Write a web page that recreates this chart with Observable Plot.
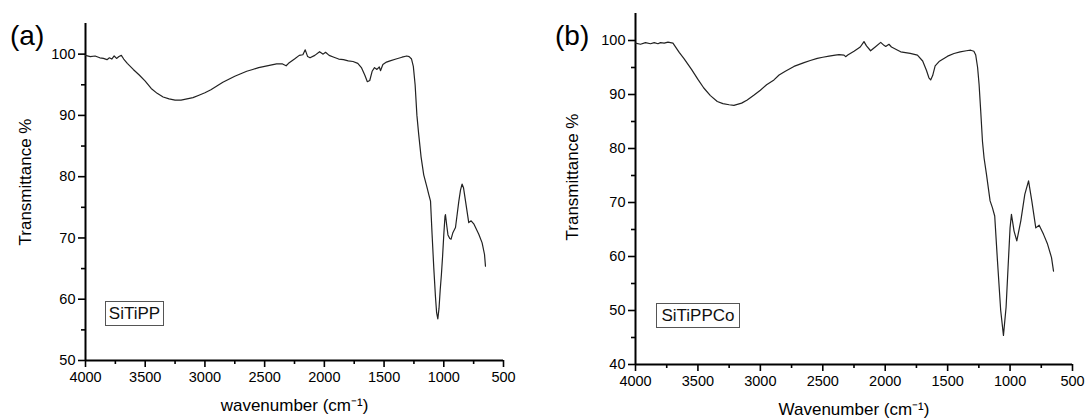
<!DOCTYPE html>
<html><head><meta charset="utf-8">
<script src="https://cdn.jsdelivr.net/npm/d3@7"></script>
<script src="https://cdn.jsdelivr.net/npm/@observablehq/plot@0.6"></script>
<style>
body{margin:0;background:#fff;font-family:"Liberation Sans",Arial,sans-serif;}
#wrap{position:relative;width:1085px;height:420px;overflow:hidden;}
.panel{position:absolute;top:0;}
.tag{position:absolute;font-size:28px;line-height:28px;color:#000;}
.box{position:absolute;border:1px solid #555;font-size:17px;line-height:23px;text-align:center;box-sizing:border-box;color:#111;background:#fff;white-space:nowrap;}
</style></head><body>
<div id="wrap"></div>
<script>
// ---- data ----
const xTicks = [4000, 3500, 3000, 2500, 2000, 1500, 1000, 500];
const xMinor = [3750, 3250, 2750, 2250, 1750, 1250, 750];
const yTicksA = [50, 60, 70, 80, 90, 100];
const yMinorA = [55, 65, 75, 85, 95];
const yTicksB = [40, 50, 60, 70, 80, 90, 100];
const yMinorB = [45, 55, 65, 75, 85, 95];

const waveA = [4000,3960,3920,3880,3850,3820,3800,3780,3760,3740,3720,3700,3680,3650,3600,3550,3500,3450,3400,3350,3300,3250,3200,3150,3100,3050,3000,2950,2900,2850,2800,2750,2700,2650,2600,2550,2500,2450,2400,2350,2320,2300,2250,2210,2180,2160,2140,2120,2080,2040,2010,1990,1960,1920,1880,1840,1800,1760,1720,1690,1660,1640,1620,1600,1580,1560,1540,1530,1510,1480,1450,1400,1350,1310,1290,1270,1255,1240,1225,1210,1190,1168,1140,1126,1111,1098,1084,1070,1060,1050,1040,1030,1020,1010,1000,990,986,975,965,950,939,925,902,874,860,847,835,818,791,771,749,707,679,659,651];
const transA = [99.8,99.6,99.7,99.4,99.3,99.1,99.4,99.2,99.7,99.3,99.6,99.8,99.2,98.5,97.5,96.6,95.6,94.4,93.6,93.0,92.7,92.5,92.5,92.7,92.9,93.3,93.7,94.2,94.8,95.4,95.9,96.4,96.8,97.2,97.5,97.8,98.0,98.2,98.4,98.4,98.1,98.5,99.2,99.8,99.9,100.7,99.6,99.4,99.8,100.4,100.0,100.3,99.8,99.5,99.2,99.1,98.9,98.8,98.5,97.8,96.5,95.5,95.7,97.2,97.8,97.5,97.9,97.3,98.3,98.7,98.9,99.2,99.5,99.7,99.6,99.2,98.0,95.0,90.0,86.9,83.2,80.3,78.2,77.1,76.0,70.6,65.2,60.5,57.8,56.8,58.5,61.5,64.0,67.0,70.5,73.5,73.8,72.0,70.5,69.9,69.8,70.8,71.7,76.0,77.8,78.8,78.2,76.0,72.5,72.8,72.3,70.6,69.2,67.3,65.4];

const waveB = [4000,3960,3920,3880,3850,3820,3800,3770,3740,3720,3700,3650,3613,3550,3500,3453,3400,3345,3300,3250,3212,3150,3105,3050,3000,2950,2891,2850,2800,2731,2650,2600,2544,2500,2450,2400,2370,2330,2317,2300,2250,2200,2170,2150,2117,2080,2036,2010,1996,1970,1950,1900,1876,1800,1742,1700,1670,1650,1636,1620,1600,1569,1500,1449,1400,1350,1315,1290,1275,1260,1248,1235,1221,1208,1189,1160,1141,1123,1101,1075,1053,1032,1016,1000,989,968,946,914,882,852,826,794,767,732,700,668,652];
const transB = [99.5,99.3,99.6,99.4,99.6,99.4,99.6,99.5,99.7,99.6,99.5,97.8,96.7,94.6,92.8,91.2,89.8,88.7,88.3,88.1,88.0,88.4,89.0,89.9,90.8,91.8,92.7,93.6,94.3,95.2,95.9,96.3,96.7,96.9,97.1,97.3,97.4,97.3,97.0,97.3,98.0,98.8,99.8,99.0,98.1,98.8,99.65,99.1,98.9,99.3,98.8,98.2,97.9,97.6,97.3,96.2,94.5,93.1,92.7,93.5,95.3,96.1,97.1,97.6,97.9,98.1,98.2,98.0,97.3,95.0,91.8,86.9,81.3,78.2,75.2,70.3,69.0,67.5,59.2,50.0,45.4,50.6,58.0,65.3,67.8,64.7,62.9,66.6,71.5,74.0,70.3,65.3,65.8,64.1,62.3,59.8,57.3];

const FONT = '"Liberation Sans", Arial, sans-serif';

function panel(o) {
  const data = o.wave.map((w, i) => ({w, t: o.trans[i]}));
  return Plot.plot({
    width: 540, height: 420,
    marginLeft: o.ml, marginRight: o.mr, marginTop: o.mt, marginBottom: o.mb,
    x: {domain: [4000, 500]},
    y: {domain: o.yDomain},
    style: {fontFamily: FONT, fontSize: "14px", color: "#000", background: "transparent", overflow: "visible"},
    marks: [
      Plot.axisX({ticks: xTicks, tickFormat: d => String(d), tickSize: 7, tickPadding: 4, strokeWidth: 1.6, fontSize: 14.5, label: null}),
      Plot.axisX({ticks: xMinor, tickFormat: () => "", tickSize: 4, strokeWidth: 1.6, label: null}),
      Plot.axisY({ticks: o.yTicks, tickFormat: d => String(d), tickSize: 7, tickPadding: 3, strokeWidth: 1.6, fontSize: 14.5, label: null}),
      Plot.axisY({ticks: o.yMinor, tickFormat: () => "", tickSize: 4, strokeWidth: 1.6, label: null}),
      Plot.ruleY([o.yDomain[0]], {stroke: "#000", strokeWidth: 2}),
      Plot.ruleX([4000], {stroke: "#000", strokeWidth: 2}),
      Plot.line(data, {x: "w", y: "t", stroke: "#222", strokeWidth: 1.2}),
      Plot.text([o.xLabel], {frameAnchor: "bottom", dy: o.xlabDy, fontSize: 17, fill: "#000"}),
      Plot.text(["Transmittance %"], {frameAnchor: "left", textAnchor: "middle", rotate: -90, dx: o.ylabDx, dy: o.ylabDy, fontSize: 17, fill: "#000"})
    ]
  });
}

const wrap = document.getElementById("wrap");
function place(el, left) { el.classList.add("panel"); el.style.left = left + "px"; wrap.appendChild(el); }

place(panel({wave: waveA, trans: transA, yDomain: [50, 105], yTicks: yTicksA, yMinor: yMinorA,
  xLabel: "wavenumber (cm⁻¹)", ml: 85, mr: 37, mt: 23, mb: 60, xlabDy: 50, ylabDx: -60, ylabDy: -10}), 0);
place(panel({wave: waveB, trans: transB, yDomain: [40, 105], yTicks: yTicksB, yMinor: yMinorB,
  xLabel: "Wavenumber (cm⁻¹)", ml: 90, mr: 13, mt: 13, mb: 56, xlabDy: 50, ylabDx: -63, ylabDy: -12}), 545);

function tag(text, left, top) { const d = document.createElement("div"); d.className = "tag"; d.textContent = text; d.style.left = left + "px"; d.style.top = top + "px"; wrap.appendChild(d); }
function box(text, left, top, w, h) { const d = document.createElement("div"); d.className = "box"; d.textContent = text; Object.assign(d.style, {left: left + "px", top: top + "px", width: w + "px", height: h + "px"}); wrap.appendChild(d); }
tag("(a)", 10, 22);
tag("(b)", 555, 22);
box("SiTiPP", 105, 301, 59, 25);
box("SiTiPPCo", 656, 303, 84, 25);
</script></body></html>
